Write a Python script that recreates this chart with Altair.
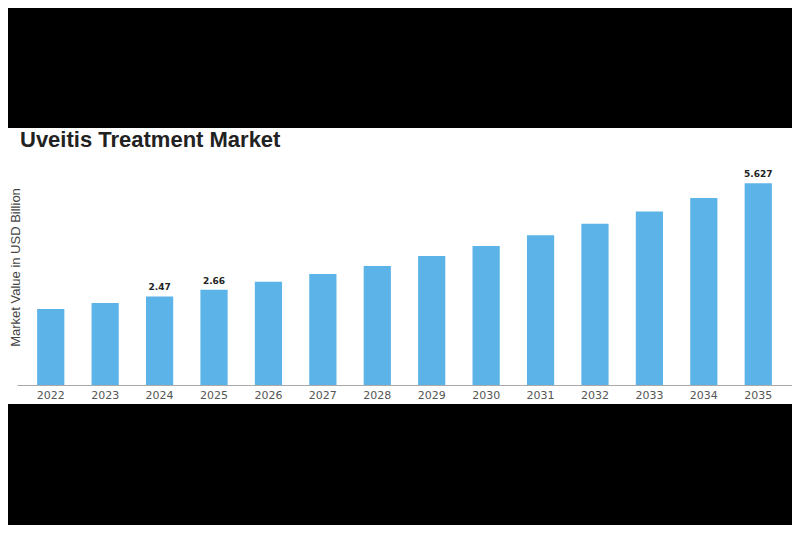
import altair as alt
import pandas as pd

years = [str(y) for y in range(2022, 2036)]
values = [2.12, 2.29, 2.47, 2.66, 2.88, 3.10, 3.32, 3.60, 3.88, 4.18, 4.50, 4.84, 5.22, 5.627]
labels = ["", "", "2.47", "2.66", "", "", "", "", "", "", "", "", "", "5.627"]

df = pd.DataFrame({"year": years, "value": values, "label": labels})

W, H = 775, 215
PL, PT = 9, 162

band = alt.Chart(pd.DataFrame({"k": [0]})).mark_rect(color="white").encode(
    x=alt.value(-PL), x2=alt.value(W), y=alt.value(120 - PT), y2=alt.value(396 - PT)
)

x = alt.X(
    "year:N",
    sort=years,
    scale=alt.Scale(paddingInner=0.5, paddingOuter=0.37),
    axis=alt.Axis(
        title=None, labelAngle=0, ticks=False, domainColor="#aaaaaa",
        labelColor="#555555", labelFont="DejaVu Sans", labelFontSize=11, labelPadding=4,
        zindex=1,
    ),
)
y = alt.Y(
    "value:Q",
    scale=alt.Scale(domain=[0, 6]),
    axis=alt.Axis(
        title="Market Value in USD Billion", labels=False, ticks=False, domain=False,
        grid=False, titleX=5, titleY=97, titleFont="Liberation Sans", titleFontSize=13,
        titleFontWeight="normal", titleColor="#444444", titleBaseline="bottom", zindex=1,
    ),
)

bars = alt.Chart(df).mark_bar(color="#5BB3E8").encode(x=x, y=y)

text = alt.Chart(df).transform_filter("datum.label != ''").mark_text(
    font="DejaVu Sans", fontSize=9, fontWeight="bold", color="#222222", baseline="bottom", dy=-4
).encode(x=alt.X("year:N", sort=years), y="value:Q", text="label:N")

chart = alt.layer(band, bars, text).properties(
    width=W, height=H,
    title=alt.TitleParams(
        "Uveitis Treatment Market", anchor="start", font="Liberation Sans", fontSize=22,
        fontWeight="bold", color="#222222", dx=3, dy=46, offset=22, frame="group",
    ),
    background="black",
    padding={"left": PL, "top": PT, "right": 0, "bottom": 517 - PT - H},
    autosize=alt.AutoSizeParams(type="none"),
).configure_view(stroke=None)

chart.save("out.html", embed_options={"renderer": "svg", "actions": False})
